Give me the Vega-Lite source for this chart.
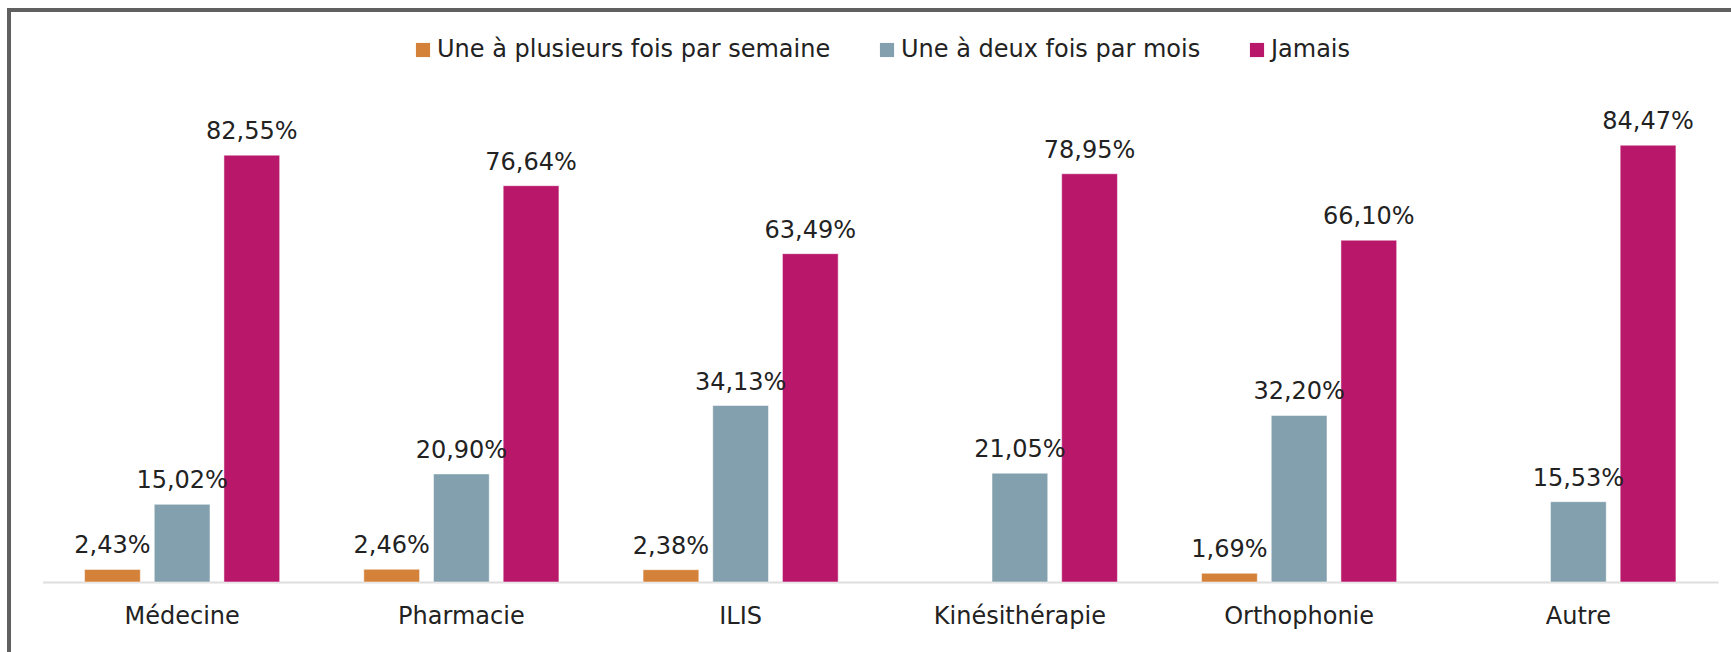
{
  "$schema": "https://vega.github.io/schema/vega-lite/v6.json",
  "width": 1722,
  "height": 642,
  "autosize": {"type": "none"},
  "padding": {"left": 9, "top": 10, "right": 0, "bottom": 0},
  "background": "#ffffff",
  "config": {
    "font": "DejaVu Sans",
    "view": {"stroke": "#606060", "strokeWidth": 4, "strokeDash": [1722, 2364, 700]}
  },
  "data": {
    "values": [
      {"filiere": "Médecine", "frequence": "Une à plusieurs fois par semaine", "value": 2.43},
      {"filiere": "Médecine", "frequence": "Une à deux fois par mois", "value": 15.02},
      {"filiere": "Médecine", "frequence": "Jamais", "value": 82.55},
      {"filiere": "Pharmacie", "frequence": "Une à plusieurs fois par semaine", "value": 2.46},
      {"filiere": "Pharmacie", "frequence": "Une à deux fois par mois", "value": 20.90},
      {"filiere": "Pharmacie", "frequence": "Jamais", "value": 76.64},
      {"filiere": "ILIS", "frequence": "Une à plusieurs fois par semaine", "value": 2.38},
      {"filiere": "ILIS", "frequence": "Une à deux fois par mois", "value": 34.13},
      {"filiere": "ILIS", "frequence": "Jamais", "value": 63.49},
      {"filiere": "Kinésithérapie", "frequence": "Une à deux fois par mois", "value": 21.05},
      {"filiere": "Kinésithérapie", "frequence": "Jamais", "value": 78.95},
      {"filiere": "Orthophonie", "frequence": "Une à plusieurs fois par semaine", "value": 1.69},
      {"filiere": "Orthophonie", "frequence": "Une à deux fois par mois", "value": 32.20},
      {"filiere": "Orthophonie", "frequence": "Jamais", "value": 66.10},
      {"filiere": "Autre", "frequence": "Une à deux fois par mois", "value": 15.53},
      {"filiere": "Autre", "frequence": "Jamais", "value": 84.47}
    ]
  },
  "layer": [
    {
      "mark": {"type": "bar", "stroke": "#ffffff", "strokeWidth": 1, "strokeOpacity": 0.5},
      "encoding": {
        "x": {
          "field": "filiere", "type": "nominal", "title": null,
          "scale": {"domain": ["Médecine", "Pharmacie", "ILIS", "Kinésithérapie", "Orthophonie", "Autre"], "range": [33.5, 1709], "paddingInner": 0, "paddingOuter": 0},
          "axis": {"orient": "bottom", "offset": -70, "domain": true, "domainColor": "#dedede", "domainWidth": 2, "ticks": false, "grid": false, "labelAngle": 0, "labelBaseline": "alphabetic", "labelPadding": 41, "labelFontSize": 24, "labelColor": "#222222", "labelFont": "DejaVu Sans"}
        },
        "xOffset": {
          "field": "frequence", "type": "nominal",
          "scale": {"domain": ["Une à plusieurs fois par semaine", "Une à deux fois par mois", "Jamais"], "paddingInner": 0.2, "paddingOuter": 0.6036}
        },
        "y": {
          "field": "value", "type": "quantitative",
          "scale": {"domain": [-13.537, 110.617], "nice": false, "zero": false},
          "axis": null
        },
        "color": {
          "field": "frequence", "type": "nominal",
          "scale": {"domain": ["Une à plusieurs fois par semaine", "Une à deux fois par mois", "Jamais"], "range": ["#D4813A", "#82A0AD", "#B8176A"]},
          "legend": {"orient": "none", "direction": "horizontal", "legendX": 402, "legendY": 28, "title": null, "symbolType": "square", "symbolSize": 200, "symbolStrokeWidth": 0, "labelFontSize": 24, "labelColor": "#222222", "labelFont": "DejaVu Sans", "labelOffset": 2, "labelLimit": 1000, "columnPadding": 44}
        }
      }
    },
    {
      "transform": [
        {"calculate": "replace(format(datum.value, '.2f'), '.', ',') + '%'", "as": "label"}
      ],
      "mark": {"type": "text", "baseline": "alphabetic", "align": "center", "dy": -16, "fontSize": 24, "color": "#222222"},
      "encoding": {
        "x": {"field": "filiere", "type": "nominal"},
        "xOffset": {"field": "frequence", "type": "nominal"},
        "y": {"field": "value", "type": "quantitative"},
        "text": {"field": "label", "type": "nominal"}
      }
    }
  ]
}
